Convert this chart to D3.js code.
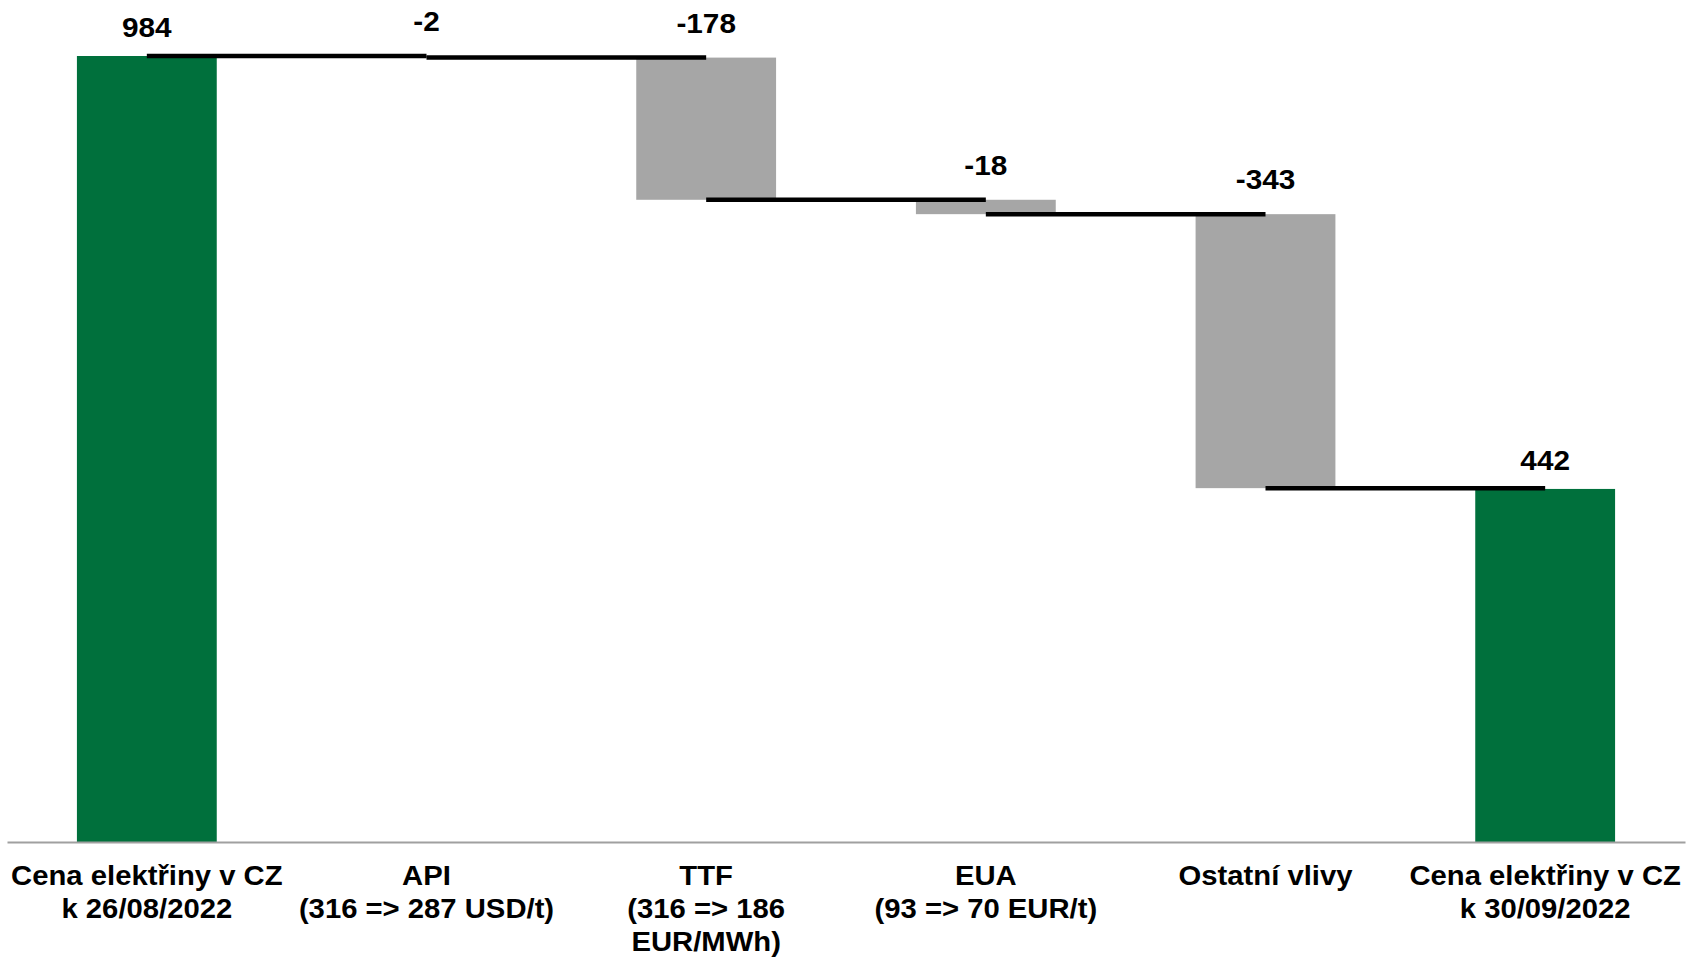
<!DOCTYPE html>
<html>
<head>
<meta charset="utf-8">
<script src="https://cdn.jsdelivr.net/npm/d3@7"></script>
<style>
  html, body { margin: 0; padding: 0; background: #fff; }
  svg { display: block; }
  text { font-family: "Liberation Sans", Arial, sans-serif; font-weight: bold; fill: #000; }
</style>
</head>
<body>
<svg id="chart" width="1688" height="957"></svg>
<script>
const categories = ["start", "API", "TTF", "EUA", "other", "end"];
const categoryLines = [
  ["Cena elektřiny v CZ", "k 26/08/2022"],
  ["API", "(316 => 287 USD/t)"],
  ["TTF", "(316 => 186", "EUR/MWh)"],
  ["EUA", "(93 => 70 EUR/t)"],
  ["Ostatní vlivy"],
  ["Cena elektřiny v CZ", "k 30/09/2022"]
];
const values = [984, -2, -178, -18, -343, 442];
const kinds = ["total", "delta", "delta", "delta", "delta", "total"];
const valueLabels = ["984", "-2", "-178", "-18", "-343", "442"];

const svg = d3.select("#chart");
const baseY = 842, topY = 56;
const sx = 1.045;

const x = d3.scaleBand().domain(categories).range([7, 1685]).paddingInner(0.5).paddingOuter(0.25);
const y = d3.scaleLinear().domain([0, 984]).range([baseY, topY]);

let running = 0;
const segs = categories.map((c, i) => {
  let y0, y1;
  if (kinds[i] === "total") { y0 = 0; y1 = values[i]; running = values[i]; }
  else { y0 = running; y1 = running + values[i]; running = y1; }
  return { c, i, y0, y1, end: running, kind: kinds[i], label: valueLabels[i] };
});

svg.append("g").selectAll("rect").data(segs).join("rect")
  .attr("x", d => x(d.c))
  .attr("width", x.bandwidth())
  .attr("y", d => y(Math.max(d.y0, d.y1)))
  .attr("height", d => Math.abs(y(d.y0) - y(d.y1)))
  .attr("fill", d => d.kind === "total" ? "#00703C" : "#A6A6A6");

const cx = c => x(c) + x.bandwidth() / 2;
svg.append("g").selectAll("line").data(segs.slice(0, -1)).join("line")
  .attr("x1", d => cx(d.c))
  .attr("x2", d => cx(categories[d.i + 1]))
  .attr("y1", d => y(d.end))
  .attr("y2", d => y(d.end))
  .attr("stroke", "#000")
  .attr("stroke-width", 4.5);

svg.append("g").selectAll("text").data(segs).join("text")
  .attr("transform", d => `translate(${cx(d.c)},${y(Math.max(d.y0, d.y1)) - (d.kind === "total" ? 19 : 25)}) scale(${sx},1)`)
  .attr("text-anchor", "middle")
  .attr("font-size", 28.5)
  .text(d => d.label);

const axis = svg.append("g")
  .attr("transform", `translate(0,${baseY})`)
  .call(d3.axisBottom(x).tickSize(0).tickFormat(""));
axis.select(".domain").attr("stroke", "#A0A0A0").attr("stroke-width", 2);
axis.selectAll(".tick").each(function(c, i) {
  const t = d3.select(this).append("text")
    .attr("text-anchor", "middle")
    .attr("font-size", 28)
    .attr("transform", `scale(${sx},1)`)
    .attr("fill", "#000");
  categoryLines[i].forEach((ln, k) => {
    t.append("tspan").attr("x", 0).attr("y", 43 + k * 33).text(ln);
  });
});
</script>
</body>
</html>
